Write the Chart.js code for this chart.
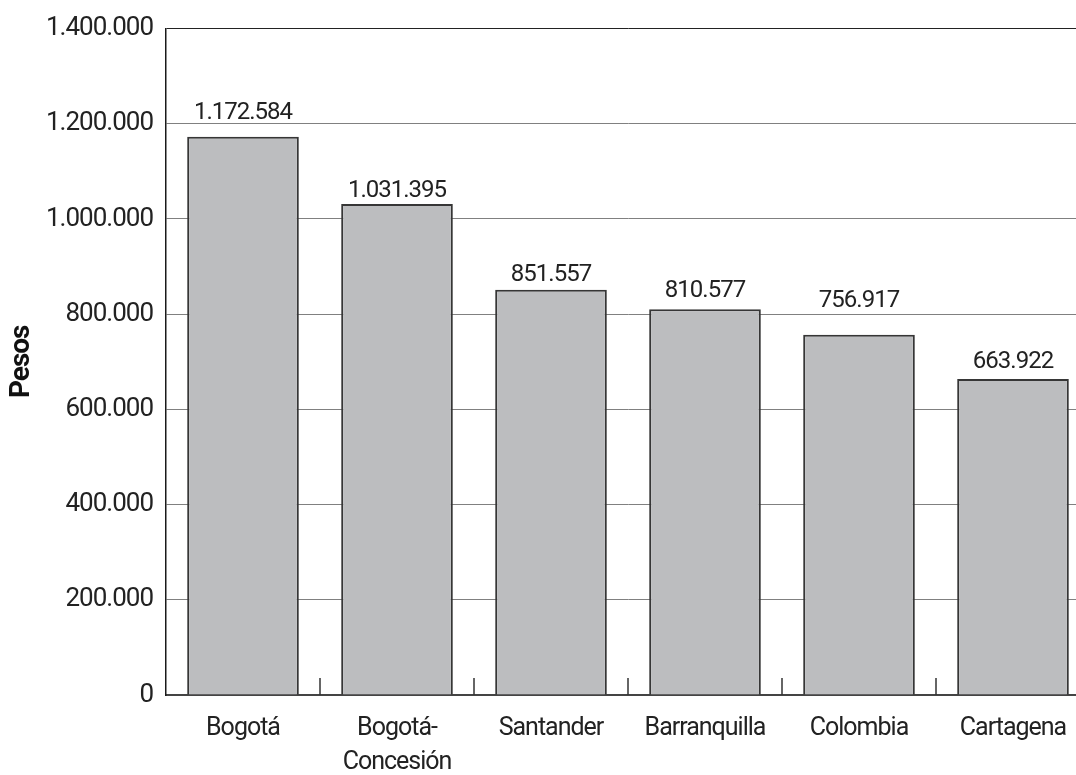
<!DOCTYPE html>
<html lang="es">
<head>
<meta charset="utf-8">
<title>Pesos por ciudad</title>
<script src="https://cdn.jsdelivr.net/npm/chart.js@4"></script>
<style>
  html, body { margin: 0; padding: 0; background: #fff; overflow: hidden; }
  #grafico { display: block; }
</style>
</head>
<body>
<canvas id="grafico" width="1090" height="775"></canvas>
<script>
// Datos del gráfico
const ciudades = ['Bogotá', ['Bogotá-', 'Concesión'], 'Santander', 'Barranquilla', 'Colombia', 'Cartagena'];
const valores = [1172584, 1031395, 851557, 810577, 756917, 663922];
const ejeY = { min: 0, max: 1400000, paso: 200000 };

const FUENTE = "Roboto, 'Liberation Sans', sans-serif";

// separador de miles con punto
function miles(v) {
  return String(v).replace(/\B(?=(\d{3})+(?!\d))/g, '.');
}

// texto algo más estrecho en todo el lienzo
const textoEstrecho = {
  id: 'textoEstrecho',
  beforeDraw(chart) {
    chart.ctx.letterSpacing = '-1px';
  }
};

// etiquetas con el valor encima de cada barra (altura ajustada a mano)
const etiquetasValor = {
  id: 'etiquetasValor',
  afterDatasetsDraw(chart, args, opts) {
    const ctx = chart.ctx;
    const meta = chart.getDatasetMeta(0);
    ctx.save();
    ctx.letterSpacing = '-1px';
    ctx.font = '24px ' + FUENTE;
    ctx.fillStyle = '#222';
    ctx.textAlign = 'center';
    ctx.textBaseline = 'alphabetic';
    meta.data.forEach((bar, i) => {
      ctx.fillText(miles(valores[i]), bar.x, bar.y - opts.alturas[i]);
    });
    ctx.restore();
  }
};

// marcas cortas hacia dentro entre categorías
const marcasX = {
  id: 'marcasX',
  afterDraw(chart) {
    const ctx = chart.ctx;
    const x = chart.scales.x;
    const base = chart.chartArea.bottom;
    ctx.save();
    ctx.strokeStyle = '#333';
    ctx.lineWidth = 1.5;
    for (let i = 0; i < ciudades.length - 1; i++) {
      const px = (x.getPixelForValue(i) + x.getPixelForValue(i + 1)) / 2;
      ctx.beginPath();
      ctx.moveTo(px, base - 17);
      ctx.lineTo(px, base);
      ctx.stroke();
    }
    ctx.restore();
  }
};

new Chart(document.getElementById('grafico'), {
  type: 'bar',
  data: {
    labels: ciudades,
    datasets: [
      {
        label: 'Pesos',
        data: valores,
        backgroundColor: '#bcbdbf',
        borderColor: '#363636',
        borderWidth: 2,
        categoryPercentage: 1,
        barPercentage: 0.725,
      },
    ],
  },
  options: {
    responsive: false,
    animation: false,
    layout: { padding: { top: 27, right: 0, bottom: 0, left: 0 } },
    plugins: {
      legend: { display: false },
      tooltip: { enabled: false },
      etiquetasValor: { alturas: [18, 7, 9, 12, 28, 11] },
    },
    scales: {
      x: {
        grid: { display: false, drawTicks: false },
        border: { display: true, color: '#444', width: 2 },
        ticks: {
          color: '#222',
          padding: 17,
          maxRotation: 0,
          autoSkip: false,
          font: { family: FUENTE, size: 25, lineHeight: 1.36 },
        },
        afterFit(scale) { scale.height = 80; },
      },
      y: {
        min: ejeY.min,
        max: ejeY.max,
        grid: {
          drawTicks: false,
          tickLength: 0,
          color: (c) => (c.tick && c.tick.value === ejeY.max ? '#222' : '#808080'),
          lineWidth: 1,
        },
        border: { display: true, color: '#1a1a1a', width: 1.5 },
        ticks: {
          stepSize: ejeY.paso,
          color: '#222',
          padding: 13,
          font: { family: FUENTE, size: 26 },
          callback: (v) => miles(v),
        },
        title: {
          display: true,
          text: 'Pesos',
          color: '#111',
          padding: { top: 8, bottom: 0 },
          font: { family: FUENTE, size: 28, weight: 'bold', lineHeight: 1 },
        },
        afterFit(scale) { scale.width = 166; },
      },
    },
  },
  plugins: [textoEstrecho, etiquetasValor, marcasX],
});
</script>
</body>
</html>
